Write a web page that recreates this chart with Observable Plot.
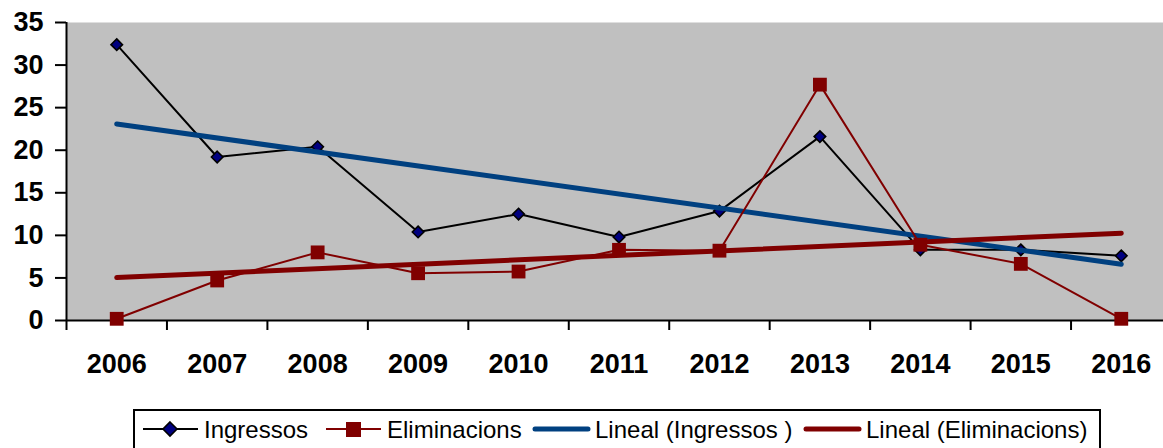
<!DOCTYPE html>
<html>
<head>
<meta charset="utf-8">
<script src="https://cdn.jsdelivr.net/npm/d3@7"></script>
<script src="https://cdn.jsdelivr.net/npm/@observablehq/plot@0.6"></script>
<style>
  html, body { margin: 0; padding: 0; background: #fff; overflow: hidden; width: 1163px; height: 448px; }
  #chart { position: absolute; left: 0; top: 0; width: 1171px; }
  #chart svg { max-width: none !important; }
  #legend { position: absolute; left: 133px; top: 409px; width: 968px; height: 60px; border: 2px solid #000; box-sizing: border-box;
    font-family: "Liberation Sans", Arial, sans-serif; font-size: 24px; color: #000; }
  .item { position: absolute; top: 0; height: 37px; display: flex; align-items: center; white-space: nowrap; }
  .item svg { display: block; }
</style>
</head>
<body>
<div id="chart"></div>
<div id="legend"></div>
<script>
const years = [2006, 2007, 2008, 2009, 2010, 2011, 2012, 2013, 2014, 2015, 2016];
const ingressos = [32.4, 19.2, 20.4, 10.4, 12.5, 9.8, 12.85, 21.6, 8.3, 8.3, 7.6];
const eliminacions = [0.2, 4.7, 8.0, 5.55, 5.75, 8.3, 8.2, 27.7, 8.9, 6.65, 0.2];
const yTicks = [0, 5, 10, 15, 20, 25, 30, 35];
const seriesNames = ["Ingressos", "Eliminacions", "Lineal (Ingressos )", "Lineal (Eliminacions)"];

const dataIng = years.map((y, i) => ({year: y, value: ingressos[i]}));
const dataElim = years.map((y, i) => ({year: y, value: eliminacions[i]}));
const bandEdges = d3.range(years.length + 1).map(i => years[0] - 0.5 + i);

const C = {ing: "#000000", ingFill: "#000080", elim: "#800000", trendIng: "#004080", trendElim: "#800000", bg: "#c0c0c0"};

const chart = Plot.plot({
  width: 1171,
  height: 400,
  marginLeft: 66,
  marginRight: 0,
  marginTop: 22,
  marginBottom: 80,
  style: {fontFamily: "'Liberation Sans', Arial, sans-serif", fontSize: "27px", fontWeight: "bold", color: "#000", background: "transparent", maxWidth: "none"},
  x: {type: "linear", domain: [years[0] - 0.5, years[years.length - 1] + 0.5]},
  y: {domain: [0, 35]},
  marks: [
    Plot.frame({fill: C.bg, stroke: null}),
    Plot.axisY({ticks: yTicks, tickSize: 11, tickPadding: 12, tickFormat: d => String(d), strokeWidth: 2, label: null}),
    Plot.axisX({ticks: bandEdges, tickSize: 10, tickFormat: () => "", strokeWidth: 2, label: null}),
    Plot.axisX({ticks: years, tickSize: 0, tickPadding: 33, tickFormat: d => String(d), label: null}),
    Plot.ruleX([years[0] - 0.5], {stroke: "#000", strokeWidth: 2}),
    Plot.ruleY([0], {stroke: "#000", strokeWidth: 2}),
    Plot.line(dataIng, {x: "year", y: "value", stroke: C.ing, strokeWidth: 2}),
    Plot.dot(dataIng, {x: "year", y: "value", symbol: "diamond2", r: 5.2, fill: C.ingFill, stroke: "#000", strokeWidth: 1.6}),
    Plot.linearRegressionY(dataIng, {x: "year", y: "value", stroke: C.trendIng, strokeWidth: 5, ci: 0, strokeLinecap: "round"}),
    Plot.line(dataElim, {x: "year", y: "value", stroke: C.elim, strokeWidth: 2}),
    Plot.dot(dataElim, {x: "year", y: "value", symbol: "square", r: 7.8, fill: C.elim, stroke: null}),
    Plot.linearRegressionY(dataElim, {x: "year", y: "value", stroke: C.trendElim, strokeWidth: 5, ci: 0, strokeLinecap: "round"})
  ]
});
document.getElementById("chart").appendChild(chart);

// Legend
const legend = document.getElementById("legend");
const items = [
  {left: 6, name: seriesNames[0], draw: `<line x1="2" y1="18" x2="57" y2="18" stroke="#000" stroke-width="2"/><path d="M29,11 L36,18 L29,25 L22,18 Z" fill="${C.ingFill}" stroke="#000" stroke-width="1.6"/>`},
  {left: 189, name: seriesNames[1], draw: `<line x1="2" y1="18" x2="57" y2="18" stroke="${C.elim}" stroke-width="2"/><rect x="22" y="11" width="15" height="15" fill="${C.elim}"/>`},
  {left: 397, name: seriesNames[2], draw: `<line x1="3" y1="18" x2="56" y2="18" stroke="${C.trendIng}" stroke-width="5" stroke-linecap="round"/>`},
  {left: 668, name: seriesNames[3], draw: `<line x1="3" y1="18" x2="56" y2="18" stroke="${C.trendElim}" stroke-width="5" stroke-linecap="round"/>`}
];
for (const it of items) {
  const div = document.createElement("div");
  div.className = "item";
  div.style.left = it.left + "px";
  div.innerHTML = `<svg width="59" height="37">${it.draw}</svg><span style="margin-left:4px">${it.name}</span>`;
  legend.appendChild(div);
}
</script>
</body>
</html>
